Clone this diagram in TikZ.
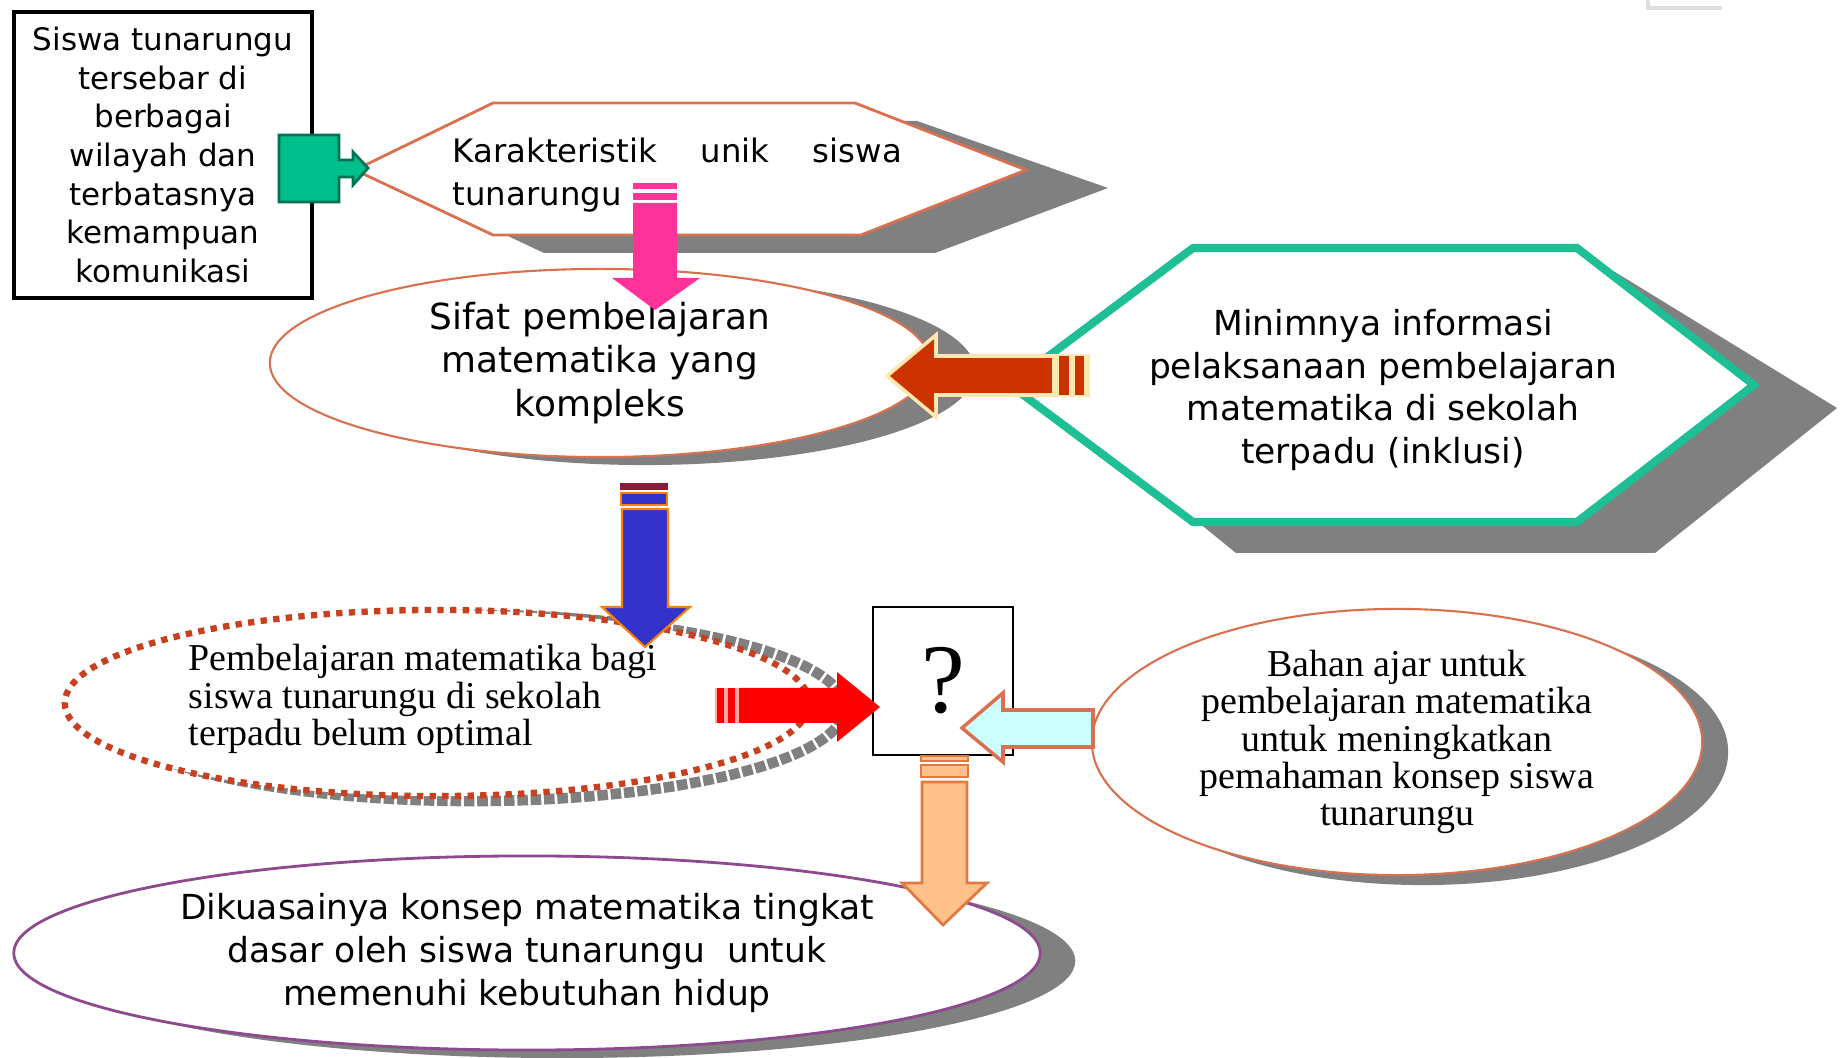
\documentclass[tikz,border=0pt]{standalone}
\usepackage{fontspec}
\setmainfont{Liberation Serif}
\newfontfamily\comicfont{DejaVu Sans}
\usetikzlibrary{shapes.geometric, shadows, calc}
\definecolor{salmon}{HTML}{D9704F}
\definecolor{tealline}{HTML}{1FBF96}
\definecolor{shadowgray}{HTML}{808080}
\definecolor{puzzlegreen}{HTML}{00BF8C}
\definecolor{pinkarrow}{HTML}{FF3399}
\definecolor{rustarrow}{HTML}{CC3300}
\definecolor{bluearrow}{HTML}{3333CC}
\definecolor{maroonbar}{HTML}{8B1A3A}
\definecolor{cyanarrow}{HTML}{CCFFFF}
\definecolor{peacharrow}{HTML}{FFC08A}
\definecolor{peachline}{HTML}{E07A40}
\definecolor{purpleline}{HTML}{8E4A8E}
\definecolor{dotred}{HTML}{C8401E}
\definecolor{cream}{HTML}{FFE8B0}

\begin{document}
\begin{tikzpicture}[x=0.01cm, y=-0.01cm,
    comic/.style={font=\comicfont\fontsize{9.8}{12.2}\selectfont, align=center},
    times/.style={font=\fontsize{10.8}{10.6}\selectfont},
    oval/.style={ellipse, fill=white, line width=0.6pt, inner sep=0pt}]
    \useasboundingbox[fill=white] (0,0) rectangle (1841,1058);
    \draw[gray!25, line width=1pt] (1648,0) -- (1648,8) -- (1722,8);
    % left box
    \node[draw, line width=1pt, minimum width=2.98cm, minimum height=2.86cm, comic,
          font=\comicfont\fontsize{8.8}{11}\selectfont] (siswa) at (163,155)
        {Siswa tunarungu\\tersebar di\\berbagai\\wilayah dan\\terbatasnya\\kemampuan\\komunikasi};
    % top hexagon
    \fill[shadowgray] (406,188) -- (544,121) -- (917,121) -- (1108,188) -- (935,253) -- (544,253) -- cycle;
    \draw[salmon, fill=white, line width=0.8pt] (355,170) -- (493,103) -- (855,103) -- (1026,170) -- (861,235) -- (493,235) -- cycle;
    \node[comic, align=left, anchor=west, inner sep=0pt,
          font=\comicfont\fontsize{9.2}{12.4}\selectfont] (karakter) at (452,175)
        {\makebox[4.49cm][s]{Karakteristik unik siswa}\\tunarungu};
    % ellipse: sifat
    \node[oval, draw=salmon, minimum width=6.6cm, minimum height=1.88cm, comic,
          font=\comicfont\fontsize{10.2}{12.4}\selectfont,
          drop shadow={shadow xshift=0.45cm, shadow yshift=-0.08cm, opacity=1, fill=shadowgray}] (sifat) at (600,363)
        {Sifat pembelajaran\\matematika yang\\kompleks};
    % teal hexagon
    \fill[shadowgray] (1060,410) -- (1240,272) -- (1615,272) -- (1837,408) -- (1655,553) -- (1236,553) -- cycle;
    \draw[tealline, fill=white, line width=2.3pt] (1010,385) -- (1193,248) -- (1577,248) -- (1754,385) -- (1577,522) -- (1193,522) -- cycle;
    \node[comic] (minim) at (1383,390)
        {Minimnya informasi\\pelaksanaan pembelajaran\\matematika di sekolah\\terpadu (inklusi)};
    % dotted ellipse
    \draw[shadowgray, line width=3pt, dash pattern=on 3pt off 0.8pt] (472,708) ellipse [x radius=3.72cm, y radius=0.93cm];
    \node[oval, draw=dotred, line width=1.8pt, dash pattern=on 1.8pt off 1.8pt,
          minimum width=7.44cm, minimum height=1.86cm] (belum) at (437,703) {};
    \node[times, align=left, anchor=west, inner sep=0pt] (belumtext) at (188,699)
        {Pembelajaran matematika bagi\\siswa tunarungu di sekolah\\terpadu belum optimal};
    % question box
    \node[draw, fill=white, line width=0.8pt, minimum width=1.4cm, minimum height=1.48cm,
          font=\fontsize{28}{30}\selectfont] (tanya) at (943,681) {?};
    % ellipse: bahan ajar
    \node[oval, draw=salmon, minimum width=6.1cm, minimum height=2.66cm, times, align=center,
          drop shadow={shadow xshift=0.26cm, shadow yshift=-0.1cm, opacity=1, fill=shadowgray}] (bahan) at (1397,742)
        {Bahan ajar untuk\\pembelajaran matematika\\untuk meningkatkan\\pemahaman konsep siswa\\tunarungu};
    % bottom ellipse
    \node[oval, draw=purpleline, line width=0.8pt, minimum width=10.26cm, minimum height=1.94cm, comic,
          drop shadow={shadow xshift=0.35cm, shadow yshift=-0.08cm, opacity=1, fill=shadowgray}] (kuasai) at (527,953)
        {Dikuasainya konsep matematika tingkat\\dasar oleh siswa tunarungu\ \ untuk\\memenuhi kebutuhan hidup};
    % green puzzle connector
    \draw[puzzlegreen!60!black, fill=puzzlegreen, line width=0.8pt]
        (279,135) -- (339,135) -- (339,160) -- (353,160) -- (353,152) -- (368,168)
        -- (353,185) -- (353,177) -- (339,177) -- (339,202) -- (279,202) -- cycle;
    % pink arrow
    \fill[pinkarrow] (633,183) rectangle (677,189);
    \fill[pinkarrow] (633,193) rectangle (677,200);
    \fill[pinkarrow] (633,203) -- (677,203) -- (677,278) -- (700,278) -- (655,310) -- (612,278) -- (633,278) -- cycle;
    % rust arrow
    \fill[cream] (1054,354) rectangle (1090,397);
    \fill[rustarrow] (1059,356) rectangle (1069,395);
    \fill[rustarrow] (1075,356) rectangle (1084,395);
    \draw[cream, fill=rustarrow, line width=1pt] (887,376) -- (936,335) -- (936,356) -- (1054,356) -- (1054,395) -- (936,395) -- (936,417) -- cycle;
    % blue arrow
    \fill[maroonbar] (620,483) rectangle (668,490);
    \draw[orange, fill=bluearrow, line width=0.6pt] (621,493) rectangle (667,505);
    \draw[orange, fill=bluearrow, line width=0.6pt] (622,509) -- (668,509) -- (668,607) -- (690,607) -- (645,647) -- (602,607) -- (622,607) -- cycle;
    % red arrow
    \fill[red!35] (715,688) rectangle (741,723);
    \fill[red] (717,688) rectangle (724,723);
    \fill[red] (728,688) rectangle (735,723);
    \fill[red] (739,688) -- (837,688) -- (837,672) -- (880,707) -- (837,742) -- (837,723) -- (739,723) -- cycle;
    % cyan arrow
    \draw[salmon, fill=cyanarrow, line width=1pt] (962,728) -- (1003,693) -- (1003,710) -- (1093,710) -- (1093,747) -- (1003,747) -- (1003,762) -- cycle;
    % peach arrow
    \draw[peachline, fill=peacharrow, line width=0.8pt] (921,756) rectangle (968,761);
    \draw[peachline, fill=peacharrow, line width=0.8pt] (921,765) rectangle (968,777);
    \draw[peachline, fill=peacharrow, line width=0.8pt] (922,782) -- (967,782) -- (967,883) -- (987,883) -- (943,925) -- (902,883) -- (922,883) -- cycle;
\end{tikzpicture}
\end{document}
